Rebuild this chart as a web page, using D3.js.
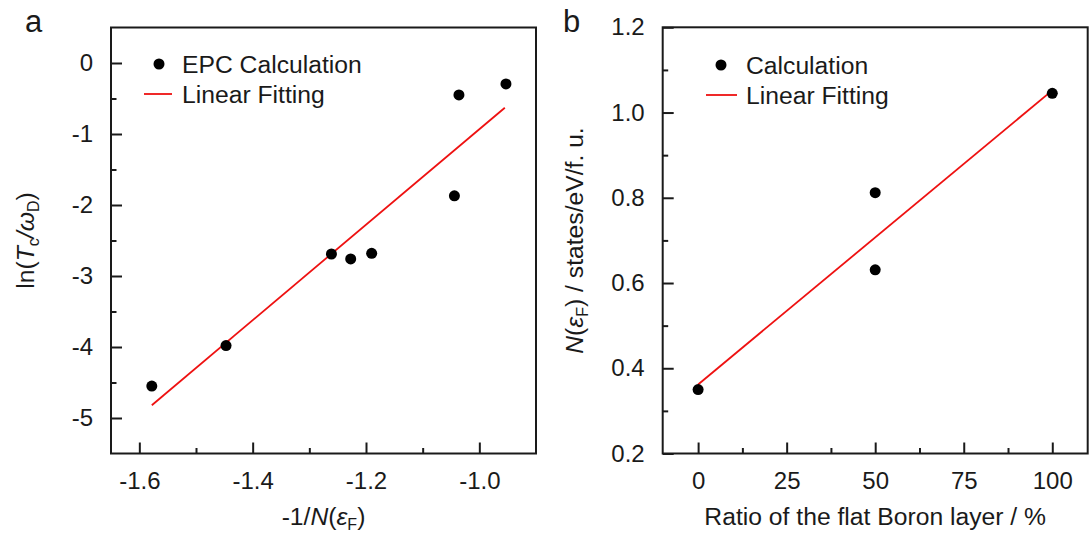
<!DOCTYPE html>
<html>
<head>
<meta charset="utf-8">
<script src="https://cdn.jsdelivr.net/npm/d3@7"></script>
<style>
  body { margin: 0; background: #fff; }
  text { font-family: "Liberation Sans", Arial, sans-serif; fill: #1a1a1a; }
</style>
</head>
<body>
<script>
// Panel a : ln(Tc/wD) against -1/N(eF)
const xA = [-1.578, -1.447, -1.261, -1.227, -1.190, -1.044, -1.036, -0.953];
const yA = [-4.55, -3.98, -2.69, -2.76, -2.68, -1.87, -0.45, -0.295];
const fitXA = [-1.578, -0.955];
const fitYA = [-4.82, -0.63];
const xTicksA = [-1.6, -1.4, -1.2, -1.0];
const xMinorA = [-1.5, -1.3, -1.1];
const yTicksA = [0, -1, -2, -3, -4, -5];
const yMinorA = [-0.5, -1.5, -2.5, -3.5, -4.5];

// Panel b : N(eF) against ratio of flat boron layer
const xB = [0, 50, 50, 100];
const yB = [0.35, 0.812, 0.631, 1.045];
const fitXB = [0, 100];
const fitYB = [0.362, 1.052];
const xTicksB = [0, 25, 50, 75, 100];
const xMinorB = [12.5, 37.5, 62.5, 87.5];
const yTicksB = [0.2, 0.4, 0.6, 0.8, 1.0, 1.2];
const yMinorB = [0.3, 0.5, 0.7, 0.9, 1.1];

const legendA = ['EPC Calculation', 'Linear Fitting'];
const legendB = ['Calculation', 'Linear Fitting'];

var svg = d3.select('body').append('svg')
            .attr('width', 1089)
            .attr('height', 536);

// draws one framed panel
function panel(box, xDom, yDom, xs, ys, fx, fy, ticks, fmtX, fmtY, legend, leg) {
  var x = d3.scaleLinear().domain(xDom).range([box.left, box.right]);
  var y = d3.scaleLinear().domain(yDom).range([box.bottom, box.top]);

  var g = svg.append('g');

  // major + minor ticks, pointing inwards
  function axis(ax, vals, size, fmt, pad) {
    return ax.tickValues(vals).tickSizeInner(-size).tickSizeOuter(0)
             .tickPadding(pad).tickFormat(fmt);
  }
  g.append('g').attr('transform', `translate(0, ${box.bottom})`)
   .call(axis(d3.axisBottom(x), ticks.x, 11, fmtX, 18));
  g.append('g').attr('transform', `translate(0, ${box.bottom})`)
   .call(axis(d3.axisBottom(x), ticks.xm, 5.5, () => '', 18));
  g.append('g').attr('transform', `translate(${box.left}, 0)`)
   .call(axis(d3.axisLeft(y), ticks.y, 11, fmtY, 18));
  g.append('g').attr('transform', `translate(${box.left}, 0)`)
   .call(axis(d3.axisLeft(y), ticks.ym, 5.5, () => '', 18));

  g.selectAll('.domain').remove();
  g.selectAll('.tick line').attr('stroke', '#1a1a1a').attr('stroke-width', 2);
  g.selectAll('.tick text')
   .attr('font-size', '24px')
   .attr('font-family', '"Liberation Sans", Arial, sans-serif')
   .attr('fill', '#1a1a1a');

  // frame
  g.append('rect')
   .attr('x', box.left).attr('y', box.top)
   .attr('width', box.right - box.left).attr('height', box.bottom - box.top)
   .attr('fill', 'none').attr('stroke', '#1a1a1a').attr('stroke-width', 2);

  // fit line
  var line = d3.line().x(d => x(d[0])).y(d => y(d[1]));
  g.append('path')
   .attr('d', line(d3.zip(fx, fy)))
   .attr('fill', 'none').attr('stroke', '#ee1111').attr('stroke-width', 1.8);

  // points
  g.selectAll('circle.pt').data(d3.zip(xs, ys)).join('circle')
   .attr('class', 'pt')
   .attr('cx', d => x(d[0])).attr('cy', d => y(d[1]))
   .attr('r', 5.5).attr('fill', '#000');

  // legend
  g.append('circle').attr('cx', leg.dot).attr('cy', leg.y1).attr('r', 5.5).attr('fill', '#000');
  g.append('line')
   .attr('x1', leg.l1).attr('x2', leg.l2).attr('y1', leg.y2).attr('y2', leg.y2)
   .attr('stroke', '#ee1111').attr('stroke-width', 1.8);
  g.selectAll('text.leg').data(legend).join('text')
   .attr('class', 'leg')
   .attr('x', leg.tx)
   .attr('y', (d, i) => i ? leg.y2 : leg.y1)
   .attr('dy', '0.35em')
   .attr('font-size', '24.7px')
   .text(d => d);

  return g;
}

const fmtMinus = d => d.toFixed(1);

var gA = panel({left: 111, right: 536, top: 27.5, bottom: 453.5},
  [-1.65, -0.9], [-5.5, 0.5], xA, yA, fitXA, fitYA,
  {x: xTicksA, xm: xMinorA, y: yTicksA, ym: yMinorA},
  fmtMinus, d => String(d),
  legendA, {dot: 159, l1: 144, l2: 172, tx: 182, y1: 64, y2: 94});

var gB = panel({left: 662.7, right: 1087.7, top: 27.3, bottom: 453.5},
  [-10, 110], [0.2, 1.2], xB, yB, fitXB, fitYB,
  {x: xTicksB, xm: xMinorB, y: yTicksB, ym: yMinorB},
  d => String(d), d => d.toFixed(1),
  legendB, {dot: 721, l1: 706, l2: 737, tx: 746, y1: 65, y2: 95});

// panel letters
svg.append('text').attr('x', 25).attr('y', 32).attr('font-size', '31px').text('a');
svg.append('text').attr('x', 563).attr('y', 32).attr('font-size', '31px').text('b');

// axis titles (with italic and subscript parts)
function title(g, parts, tr) {
  var t = g.append('text')
           .attr('transform', tr)
           .attr('text-anchor', 'middle')
           .attr('font-size', '24.7px');
  parts.forEach(p => {
    var s = t.append('tspan').text(p.t);
    if (p.i) s.attr('font-style', 'italic');
    if (p.sub) s.attr('font-size', '16px').attr('dy', 5);
    if (p.back) s.attr('dy', -5);
  });
  return t;
}

title(gA, [
  {t: '-1/'}, {t: 'N', i: true}, {t: '('}, {t: '\u03b5', i: true},
  {t: 'F', sub: true}, {t: ')', back: true}
], 'translate(323.5, 525)');

title(gA, [
  {t: 'ln('}, {t: 'T', i: true}, {t: 'c', sub: true}, {t: '/', i: true, back: true},
  {t: '\u03c9', i: true}, {t: 'D', sub: true}, {t: ')', back: true}
], 'translate(33.5, 240.5) rotate(-90)');

title(gB, [{t: 'Ratio of the flat Boron layer / %'}], 'translate(875.2, 525)');

title(gB, [
  {t: 'N', i: true}, {t: '('}, {t: '\u03b5', i: true}, {t: 'F', sub: true},
  {t: ') / states/eV/f. u.', back: true}
], 'translate(582.5, 240.5) rotate(-90)');
</script>
</body>
</html>
